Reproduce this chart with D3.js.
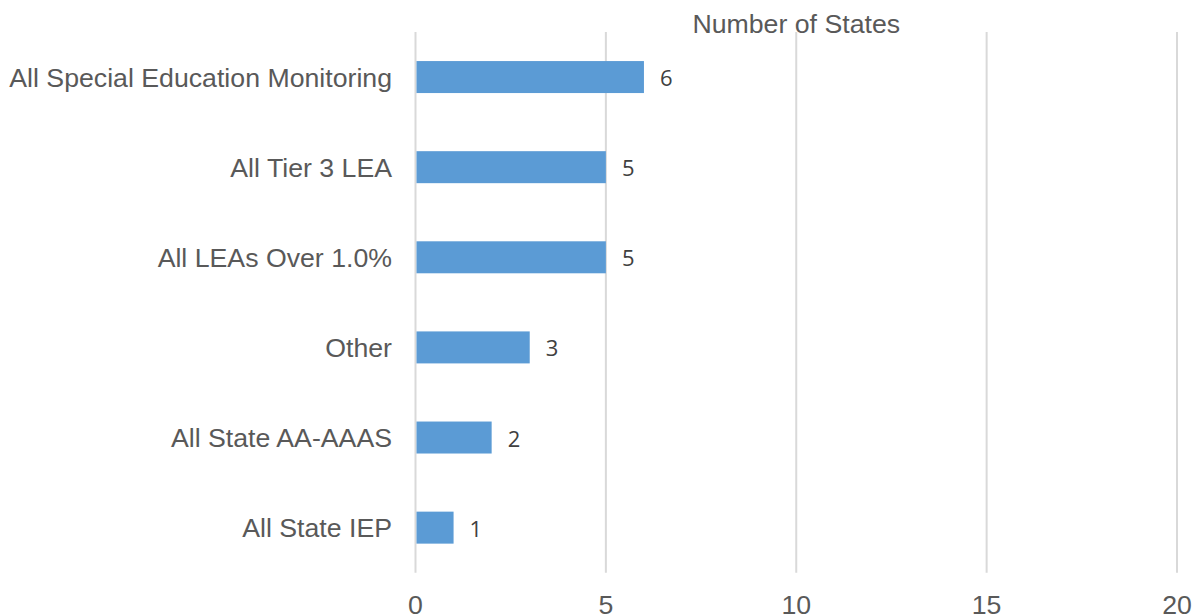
<!DOCTYPE html>
<html><head><meta charset="utf-8">
<script src="https://cdn.jsdelivr.net/npm/d3@7"></script>
<style>html,body{margin:0;padding:0;background:#fff;}</style>
</head><body>
<svg id="chart" width="1201" height="616"></svg>
<script>
const categories = ["All Special Education Monitoring","All Tier 3 LEA","All LEAs Over 1.0%","Other","All State AA-AAAS","All State IEP"];
const values = [6,5,5,3,2,1];
const xTicks = [0,5,10,15,20];
const axisTitle = "Number of States";

(function(){
const svg = d3.select("#chart");
const pLeft = 415.5, pRight = 1177, pTop = 32, pBottom = 572.7;
const x = d3.scaleLinear().domain([0,20]).range([pLeft,pRight]);
const y = d3.scaleBand().domain(categories).range([pTop,pBottom]).paddingInner(0.645).paddingOuter(0.3225);
const font = "Arial, 'Liberation Sans', sans-serif";

// gridlines
svg.append("g").selectAll("line").data(xTicks).join("line")
  .attr("x1",d=>x(d)).attr("x2",d=>x(d)).attr("y1",pTop).attr("y2",pBottom)
  .attr("stroke","#d9d9d9").attr("stroke-width",2);

// bars
svg.append("g").selectAll("rect").data(values).join("rect")
  .attr("x",x(0)+1).attr("y",(d,i)=>y(categories[i]))
  .attr("width",d=>x(d)-x(0)-1).attr("height",y.bandwidth())
  .attr("fill","#5b9bd5");

// value labels
svg.append("g").selectAll("text").data(values).join("text")
  .attr("x",d=>x(d)+16).attr("y",(d,i)=>y(categories[i])+y.bandwidth()/2+9)
  .attr("font-family","'Open Sans', sans-serif").attr("font-size",22)
  .attr("fill","#404040").text(d=>d);

// category labels
svg.append("g").selectAll("text").data(categories).join("text")
  .attr("x",392).attr("y",d=>y(d)+y.bandwidth()/2+9.5)
  .attr("text-anchor","end").attr("font-family",font).attr("font-size",26.7)
  .attr("fill","#595959").text(d=>d);

// x tick labels
svg.append("g").selectAll("text").data(xTicks).join("text")
  .attr("x",d=>x(d)).attr("y",613.5)
  .attr("text-anchor","middle").attr("font-family",font).attr("font-size",26.7)
  .attr("fill","#595959").text(d=>d);

// axis title
svg.append("text").attr("x",(pLeft+pRight)/2).attr("y",33)
  .attr("text-anchor","middle").attr("font-family",font).attr("font-size",26.7)
  .attr("fill","#595959").text(axisTitle);
})();
</script>
</body></html>
